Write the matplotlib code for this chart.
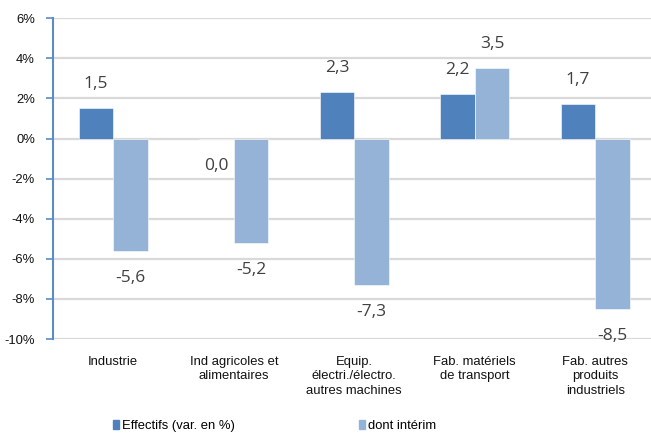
import matplotlib
matplotlib.use("Agg")
import matplotlib.pyplot as plt
import numpy as np
from matplotlib.patches import Patch

categories = ["Industrie", "Ind agricoles et\nalimentaires", "Equip.\nélectri./électro.\nautres machines",
              "Fab. matériels\nde transport", "Fab. autres\nproduits\nindustriels"]
effectifs = [1.5, 0.0, 2.3, 2.2, 1.7]
interim = [-5.6, -5.2, -7.3, 3.5, -8.5]
series_names = ["Effectifs (var. en %)", "dont intérim"]
yticks = [-10, -8, -6, -4, -2, 0, 2, 4, 6]

c_dark = "#4F81BD"
c_light = "#95B3D7"
grid_c = "#D9D9D9"

fig = plt.figure(figsize=(6.51, 4.33), dpi=100)
ax = fig.add_axes([53 / 651, 1 - 339 / 433, 602.5 / 651, (339 - 18.3) / 433])

x = np.arange(len(categories))
w = 0.286
ax.bar(x - w / 2, effectifs, w, color=c_dark, edgecolor="white", linewidth=0.4, zorder=3)
ax.bar(x + w / 2, interim, w, color=c_light, edgecolor="white", linewidth=0.4, zorder=3)

fs = 9.4
ax.set_xlim(-0.5, len(categories) - 0.5)
ax.set_ylim(-10, 6)
ax.set_yticks(yticks)
ax.set_yticklabels([f"{t}%" for t in yticks], fontsize=fs, family="Liberation Sans", color="#111111")
ax.yaxis.grid(True, color=grid_c, linewidth=1.6, zorder=0)
ax.set_xticks(x)
ax.set_xticklabels(categories, fontsize=fs, family="Liberation Sans", color="#111111", linespacing=1.3)
ax.tick_params(axis="x", length=0, pad=12)
ax.tick_params(axis="y", length=5, width=1.2, color="#5B8CC6", pad=8)
for s in ["top", "right", "bottom"]:
    ax.spines[s].set_visible(False)
ax.spines["left"].set_color("#5B8CC6")
ax.spines["left"].set_linewidth(1.5)

lab_font = dict(fontsize=12.5, family="Open Sans", color="#404040", ha="center", va="center")

def label(xpos, v):
    off = 17.3 if v > 0 else -19.6
    ax.annotate(f"{v:.1f}".replace(".", ","), (xpos, v), xytext=(0, off),
                textcoords="offset points", annotation_clip=False, **lab_font)

for i in range(len(categories)):
    label(x[i] - w / 2, effectifs[i])
    label(x[i] + w / 2, interim[i])

handles = [Patch(color=c_dark), Patch(color=c_light)]
fig.legend(handles, series_names, loc="center left", bbox_to_anchor=(113 / 651, 1 - 426 / 433),
           ncol=2, frameon=False, borderpad=0, borderaxespad=0, handlelength=0.45, handleheight=0.75,
           handletextpad=0.25, columnspacing=9.5, prop={"family": "Liberation Sans", "size": fs})

fig.savefig("out.png", dpi=100)
